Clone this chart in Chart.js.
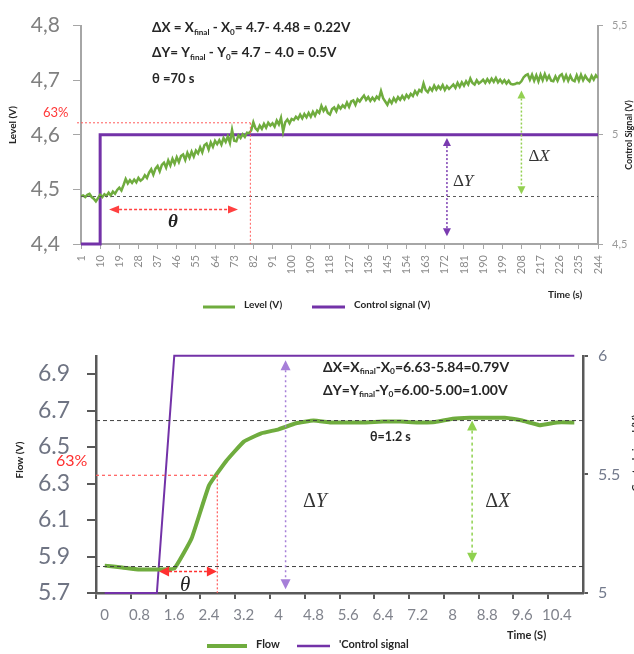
<!DOCTYPE html>
<html>
<head>
<meta charset="utf-8">
<title>Step response - level and flow</title>
<script src="https://cdn.jsdelivr.net/npm/chart.js@4.4.1/dist/chart.umd.min.js"></script>
<style>
  html, body { margin: 0; padding: 0; background: #fff; }
  body { width: 634px; height: 654px; overflow: hidden; position: relative; }
  canvas { position: absolute; left: 0; }
  #levelChart { top: 0; }
  #flowChart { top: 325px; }
</style>
</head>
<body>
<canvas id="levelChart" width="634" height="325"></canvas>
<canvas id="flowChart" width="634" height="329"></canvas>
<script>
// ============================================
// Level test data (one sample per second)
// ============================================

const levelValues = [
  4.487, 4.489, 4.486, 4.490, 4.492, 4.486, 4.483, 4.478, 4.484, 4.490,
  4.486, 4.491, 4.488, 4.494, 4.489, 4.496, 4.492, 4.499, 4.503, 4.498,
  4.508, 4.519, 4.511, 4.517, 4.512, 4.518, 4.513, 4.521, 4.516, 4.519,
  4.526, 4.521, 4.531, 4.537, 4.527, 4.538, 4.543, 4.533, 4.545, 4.549,
  4.540, 4.553, 4.544, 4.556, 4.547, 4.559, 4.550, 4.561, 4.564, 4.554,
  4.567, 4.558, 4.569, 4.560, 4.571, 4.566, 4.577, 4.568, 4.581, 4.584,
  4.573, 4.586, 4.578, 4.589, 4.583, 4.590, 4.582, 4.594, 4.587, 4.597,
  4.585, 4.609, 4.589, 4.588, 4.599, 4.594, 4.601, 4.596, 4.604, 4.603,
  4.608, 4.623, 4.612, 4.608, 4.617, 4.611, 4.620, 4.613, 4.622, 4.617,
  4.621, 4.615, 4.626, 4.619, 4.631, 4.606, 4.623, 4.628, 4.621, 4.629,
  4.627, 4.633, 4.629, 4.637, 4.630, 4.638, 4.632, 4.640, 4.633, 4.642,
  4.635, 4.644, 4.640, 4.653, 4.644, 4.650, 4.640, 4.637, 4.647, 4.650,
  4.643, 4.653, 4.648, 4.654, 4.650, 4.659, 4.651, 4.661, 4.663, 4.655,
  4.665, 4.661, 4.667, 4.672, 4.664, 4.669, 4.662, 4.668, 4.663, 4.670,
  4.666, 4.680, 4.667, 4.661, 4.655, 4.664, 4.658, 4.667, 4.661, 4.669,
  4.664, 4.671, 4.665, 4.673, 4.668, 4.675, 4.671, 4.680, 4.674, 4.682,
  4.679, 4.694, 4.682, 4.678, 4.686, 4.681, 4.690, 4.683, 4.689, 4.684,
  4.691, 4.682, 4.689, 4.684, 4.688, 4.692, 4.686, 4.695, 4.688, 4.696,
  4.690, 4.698, 4.692, 4.703, 4.695, 4.692, 4.700, 4.694, 4.697, 4.701,
  4.695, 4.702, 4.696, 4.703, 4.697, 4.704, 4.696, 4.701, 4.695, 4.700,
  4.694, 4.699, 4.693, 4.692, 4.693, 4.695, 4.694, 4.698, 4.705, 4.709,
  4.711, 4.701, 4.710, 4.699, 4.709, 4.698, 4.710, 4.700, 4.711, 4.701,
  4.708, 4.699, 4.698, 4.707, 4.699, 4.708, 4.711, 4.700, 4.709, 4.699,
  4.708, 4.700, 4.698, 4.709, 4.699, 4.710, 4.700, 4.708, 4.702, 4.698,
  4.708, 4.701, 4.709, 4.704
];

// control signal steps from 4.5 V to 5 V at t = 10 s
const levelControlTime = [1, 10, 10, 244];
const levelControlValues = [4.5, 4.5, 5, 5];

const levelTimeTicks = [1, 10, 19, 28, 37, 46, 55, 64, 73, 82, 91, 100, 109, 118,
  127, 136, 145, 154, 163, 172, 181, 190, 199, 208, 217, 226, 235, 244];
const levelTicks = [4.4, 4.5, 4.6, 4.7, 4.8];
const levelControlTicks = [4.5, 5, 5.5];

// ============================================
// Flow test data (one sample every 0.4 s)
// ============================================

const flowTime = ['0', '0.4', '0.8', '1.2', '1.6', '2', '2.4', '2.8', '3.2', '3.6',
  '4', '4.4', '4.8', '5.2', '5.6', '6', '6.4', '6.8', '7.2', '7.6',
  '8', '8.4', '8.8', '9.2', '9.6', '10', '10.4', '10.8'];
const flowValues = [5.850, 5.840, 5.829, 5.829, 5.834, 6.000, 6.290, 6.425, 6.530, 6.575,
  6.597, 6.630, 6.645, 6.635, 6.635, 6.635, 6.640, 6.640, 6.635, 6.637,
  6.655, 6.660, 6.660, 6.660, 6.645, 6.620, 6.635, 6.635];
const flowControl = [5, 5, 5, 5, 6, 6, 6, 6, 6, 6,
  6, 6, 6, 6, 6, 6, 6, 6, 6, 6,
  6, 6, 6, 6, 6, 6, 6, 6];
const flowTicks = [5.7, 5.9, 6.1, 6.3, 6.5, 6.7, 6.9];
const flowControlTicks = [5, 5.5, 6];

const GREEN = '#6fac3e';
const PURPLE = '#7332a8';
const SANS = 'Lato';
const SERIF = '"Liberation Serif"';

// ============================================
// Drawing helpers
// ============================================

function dashLine(ctx, x1, y1, x2, y2, color, width, dash) {
  ctx.save();
  ctx.strokeStyle = color;
  ctx.lineWidth = width;
  ctx.setLineDash(dash);
  ctx.beginPath();
  ctx.moveTo(x1, y1);
  ctx.lineTo(x2, y2);
  ctx.stroke();
  ctx.restore();
}

// filled arrow head with its tip at (x, y)
function head(ctx, x, y, dir, hw, hl, color) {
  ctx.save();
  ctx.fillStyle = color;
  ctx.beginPath();
  ctx.moveTo(x, y);
  if (dir === 'up') { ctx.lineTo(x - hw, y + hl); ctx.lineTo(x + hw, y + hl); }
  if (dir === 'down') { ctx.lineTo(x - hw, y - hl); ctx.lineTo(x + hw, y - hl); }
  if (dir === 'left') { ctx.lineTo(x + hl, y - hw); ctx.lineTo(x + hl, y + hw); }
  if (dir === 'right') { ctx.lineTo(x - hl, y - hw); ctx.lineTo(x - hl, y + hw); }
  ctx.closePath();
  ctx.fill();
  ctx.restore();
}

function vArrow(ctx, x, yTop, yBottom, color, dash, hw, hl) {
  dashLine(ctx, x, yTop + hl, x, yBottom - hl, color, 1.5, dash);
  head(ctx, x, yTop, 'up', hw, hl, color);
  head(ctx, x, yBottom, 'down', hw, hl, color);
}

function hArrow(ctx, xLeft, xRight, y, color, dash, hw, hl) {
  dashLine(ctx, xLeft + hl, y, xRight - hl, y, color, 1.5, dash);
  head(ctx, xLeft, y, 'left', hw, hl, color);
  head(ctx, xRight, y, 'right', hw, hl, color);
}

function text(ctx, str, x, y, font, color, align, angle) {
  ctx.save();
  ctx.translate(x, y);
  if (angle) ctx.rotate(angle);
  ctx.font = font;
  ctx.fillStyle = color;
  ctx.textAlign = align || 'left';
  ctx.textBaseline = 'middle';
  ctx.fillText(str, 0, 0);
  ctx.restore();
}

// bold formula line with small subscripts
function formula(ctx, parts, x, y, size) {
  ctx.save();
  ctx.fillStyle = '#262626';
  ctx.textBaseline = 'middle';
  let cx = x;
  parts.forEach(p => {
    const sub = Array.isArray(p);
    const str = sub ? p[0] : p;
    ctx.font = `bold ${sub ? size * 0.6 : size}px ${SANS}`;
    ctx.fillText(str, cx, sub ? y + size * 0.3 : y);
    cx += ctx.measureText(str).width;
  });
  ctx.restore();
}

// upright delta followed by an italic letter
function deltaLabel(ctx, letter, x, y, size) {
  ctx.save();
  ctx.fillStyle = '#333';
  ctx.textBaseline = 'middle';
  ctx.font = `${size}px ${SERIF}`;
  ctx.fillText('Δ', x, y);
  const w = ctx.measureText('Δ').width;
  ctx.font = `italic ${size}px ${SERIF}`;
  ctx.fillText(letter, x + w, y);
  ctx.restore();
}

function legendItem(ctx, x1, x2, y, color, width, label, size) {
  ctx.save();
  ctx.strokeStyle = color;
  ctx.lineWidth = width;
  ctx.beginPath();
  ctx.moveTo(x1, y);
  ctx.lineTo(x2, y);
  ctx.stroke();
  ctx.restore();
  text(ctx, label, x2 + 9, y - 2, `bold ${size}px ${SANS}`, '#262626');
}

function fixedTicks(values) {
  return scale => { scale.ticks = values.map(v => ({ value: v })); };
}

// ============================================
// Level chart annotations
// ============================================

const levelNotes = {
  id: 'levelNotes',
  afterDatasetsDraw(chart) {
    const { ctx, chartArea: area, scales: { x, y } } = chart;
    const px = t => x.getPixelForValue(t);
    const py = v => y.getPixelForValue(v);

    // initial level
    dashLine(ctx, area.left, py(4.487), area.right, py(4.487), '#5a5a5a', 1, [3, 3]);

    // 63 % of the change and the time it is reached
    dashLine(ctx, area.left - 4, py(4.622), px(80.6), py(4.622), '#ff5c5c', 1, [2, 2]);
    dashLine(ctx, px(80.6), py(4.622), px(80.6), area.bottom, '#ff5c5c', 1, [2, 2]);
    text(ctx, '63%', 43, 113, `13px ${SANS}`, '#ff3838');

    // dead time
    hArrow(ctx, px(14.2), px(74.8), py(4.463), '#ff4040', [3, 2], 4, 10);
    text(ctx, 'θ', px(44.2), py(4.44), `bold italic 19px ${SERIF}`, '#222', 'center');

    // ΔY and ΔX
    vArrow(ctx, px(173), py(4.594), py(4.414), '#7a3bb0', [2, 2], 4, 8);
    deltaLabel(ctx, 'Y', px(175.8), py(4.515), 17);
    vArrow(ctx, px(208), py(4.681), py(4.491), '#93d051', [2, 2], 4, 8);
    deltaLabel(ctx, 'X', px(211.3), py(4.56), 17);

    formula(ctx, ['ΔX = X', ['final'], ' - X', ['0'], '= 4.7- 4.48 = 0.22V'], 152, 28, 13.5);
    formula(ctx, ['ΔY= Y', ['final'], ' - Y', ['0'], '= 4.7 – 4.0 = 0.5V'], 152, 53, 13.5);
    formula(ctx, ['θ =70 s'], 152, 79, 13);

    // axis titles and legend
    text(ctx, 'Level (V)', 13, 125, `bold 10px ${SANS}`, '#262626', 'center', -Math.PI / 2);
    text(ctx, 'Control Signal (V)', 629, 135, `bold 9px ${SANS}`, '#262626', 'center', -Math.PI / 2);
    text(ctx, 'Time (s)', 548, 295, `bold 10px ${SANS}`, '#262626');
    legendItem(ctx, 203, 235, 307, GREEN, 3, 'Level (V)', 10);
    legendItem(ctx, 312, 345, 307, PURPLE, 3, 'Control signal (V)', 10);
  }
};

// ============================================
// Flow chart annotations
// ============================================

const flowNotes = {
  id: 'flowNotes',
  afterDatasetsDraw(chart) {
    const { ctx, chartArea: area, scales: { x, y } } = chart;
    const px = t => x.getPixelForValue(t / 0.4);
    const py = v => y.getPixelForValue(v);

    // initial and final flow
    dashLine(ctx, area.left, py(5.845), area.right, py(5.845), '#404040', 1, [4, 3]);
    dashLine(ctx, area.left, py(6.645), area.right, py(6.645), '#404040', 1, [4, 3]);

    // 63 % point
    dashLine(ctx, area.left, py(6.345), px(2.59), py(6.345), '#ff5c5c', 1.2, [3, 3]);
    dashLine(ctx, px(2.59), py(6.345), px(2.59), area.bottom, '#ff5c5c', 1.2, [2, 2]);
    text(ctx, '63%', 56, 136, `16px ${SANS}`, '#ff3030');

    // dead time
    hArrow(ctx, px(1.25), px(2.58), py(5.818), '#ff3030', [3, 2], 5, 10);
    text(ctx, 'θ', px(1.85), py(5.743), `italic 21px ${SERIF}`, '#222', 'center');

    // ΔY and ΔX
    vArrow(ctx, px(4.16), py(6.975), py(5.721), '#a67fd8', [2, 3], 5, 10);
    deltaLabel(ctx, 'Y', px(4.56), py(6.2), 20);
    vArrow(ctx, px(8.45), py(6.645), py(5.866), '#8fd14f', [3, 3], 5, 10);
    deltaLabel(ctx, 'X', px(8.75), py(6.2), 20);

    formula(ctx, ['ΔX=X', ['final'], '-X', ['0'], '=6.63-5.84=0.79V'], 323, 42, 14);
    formula(ctx, ['ΔY=Y', ['final'], '-Y', ['0'], '=6.00-5.00=1.00V'], 323, 65, 14);
    formula(ctx, ['θ=1.2 s'], 370, 112, 12.5);

    // axis titles and legend
    text(ctx, 'Flow (V)', 20, 135, `bold 10px ${SANS}`, '#262626', 'center', -Math.PI / 2);
    text(ctx, 'Control signal (V)', 636, 128, `bold 10px ${SANS}`, '#262626', 'center', -Math.PI / 2);
    text(ctx, 'Time (S)', 507, 310, `bold 11px ${SANS}`, '#262626');
    legendItem(ctx, 207, 247, 321, GREEN, 4, 'Flow', 11);
    legendItem(ctx, 297, 330, 321, PURPLE, 2.5, '\'Control signal', 11);
  }
};

// ============================================
// Charts
// ============================================

Chart.defaults.font.family = SANS;

const quiet = {
  responsive: false,
  animation: false,
  events: [],
  plugins: { legend: { display: false }, tooltip: { enabled: false } }
};

new Chart(document.getElementById('levelChart'), {
  type: 'line',
  data: {
    datasets: [
      {
        label: 'Level (V)',
        data: levelValues.map((v, i) => ({ x: i + 1, y: v })),
        yAxisID: 'y',
        borderColor: GREEN,
        borderWidth: 2.5,
        pointRadius: 0,
        tension: 0
      },
      {
        label: 'Control signal (V)',
        data: levelControlTime.map((t, i) => ({ x: t, y: levelControlValues[i] })),
        yAxisID: 'y2',
        borderColor: PURPLE,
        borderWidth: 3,
        pointRadius: 0,
        tension: 0,
        clip: false
      }
    ]
  },
  options: {
    ...quiet,
    layout: { padding: { top: 15 } },
    scales: {
      x: {
        type: 'linear',
        min: 1,
        max: 244,
        afterBuildTicks: fixedTicks(levelTimeTicks),
        afterFit: s => { s.height = 81; },
        ticks: { autoSkip: false, minRotation: 90, maxRotation: 90, padding: 6, color: '#8c8c8c', font: { size: 11 } },
        grid: { drawOnChartArea: false, tickLength: 5, color: '#a6a6a6' },
        border: { color: '#a6a6a6', width: 2 }
      },
      y: {
        position: 'left',
        min: 4.4,
        max: 4.8,
        afterBuildTicks: fixedTicks(levelTicks),
        afterFit: s => { s.width = 81; },
        ticks: { callback: v => v.toFixed(1).replace('.', ','), padding: 13, color: '#808080', font: { size: 21 } },
        grid: { drawOnChartArea: false, tickLength: 8, color: '#a6a6a6' },
        border: { color: '#a6a6a6', width: 2 }
      },
      y2: {
        position: 'right',
        min: 4.5,
        max: 5.5,
        afterBuildTicks: fixedTicks(levelControlTicks),
        afterFit: s => { s.width = 36; },
        ticks: { callback: v => String(v).replace('.', ','), padding: 9, color: '#9a9a9a', font: { size: 11 } },
        grid: { drawOnChartArea: false, tickLength: 5, color: '#a6a6a6' },
        border: { color: '#a6a6a6', width: 2 }
      }
    }
  },
  plugins: [levelNotes]
});

new Chart(document.getElementById('flowChart'), {
  type: 'line',
  data: {
    labels: flowTime,
    datasets: [
      {
        label: 'Flow',
        data: flowValues,
        yAxisID: 'y',
        borderColor: GREEN,
        borderWidth: 4,
        pointRadius: 0,
        tension: 0.1
      },
      {
        label: 'Control signal',
        data: flowControl,
        yAxisID: 'y2',
        borderColor: PURPLE,
        borderWidth: 2,
        pointRadius: 0,
        tension: 0,
        clip: false
      }
    ]
  },
  options: {
    ...quiet,
    layout: { padding: { top: 26 } },
    scales: {
      x: {
        type: 'category',
        offset: true,
        afterFit: s => { s.height = 61; },
        ticks: {
          autoSkip: false,
          maxRotation: 0,
          callback: (v, i) => (i % 2 === 0 ? flowTime[i] : ''),
          padding: 7,
          color: '#80838c',
          font: { size: 15 }
        },
        grid: {
          offset: true,
          drawOnChartArea: false,
          tickLength: 6,
          lineWidth: 2,
          color: c => (c.index % 2 === 0 ? '#595959' : 'rgba(0,0,0,0)')
        },
        border: { color: '#595959', width: 2.5 }
      },
      y: {
        position: 'left',
        min: 5.7,
        max: 7.0,
        afterBuildTicks: fixedTicks(flowTicks),
        afterFit: s => { s.width = 96; },
        ticks: { callback: v => v.toFixed(1), padding: 17, color: '#6f7483', font: { size: 23 } },
        grid: { drawOnChartArea: false, tickLength: 9, lineWidth: 2, color: '#595959' },
        border: { color: '#595959', width: 2.5 }
      },
      y2: {
        position: 'right',
        min: 5,
        max: 6,
        afterBuildTicks: fixedTicks(flowControlTicks),
        afterFit: s => { s.width = 51; },
        ticks: { callback: v => String(v), padding: 10, color: '#737a8c', font: { size: 16 } },
        grid: { drawOnChartArea: false, tickLength: 5, lineWidth: 2, color: '#595959' },
        border: { color: '#595959', width: 2.5 }
      }
    }
  },
  plugins: [flowNotes]
});
</script>
</body>
</html>
